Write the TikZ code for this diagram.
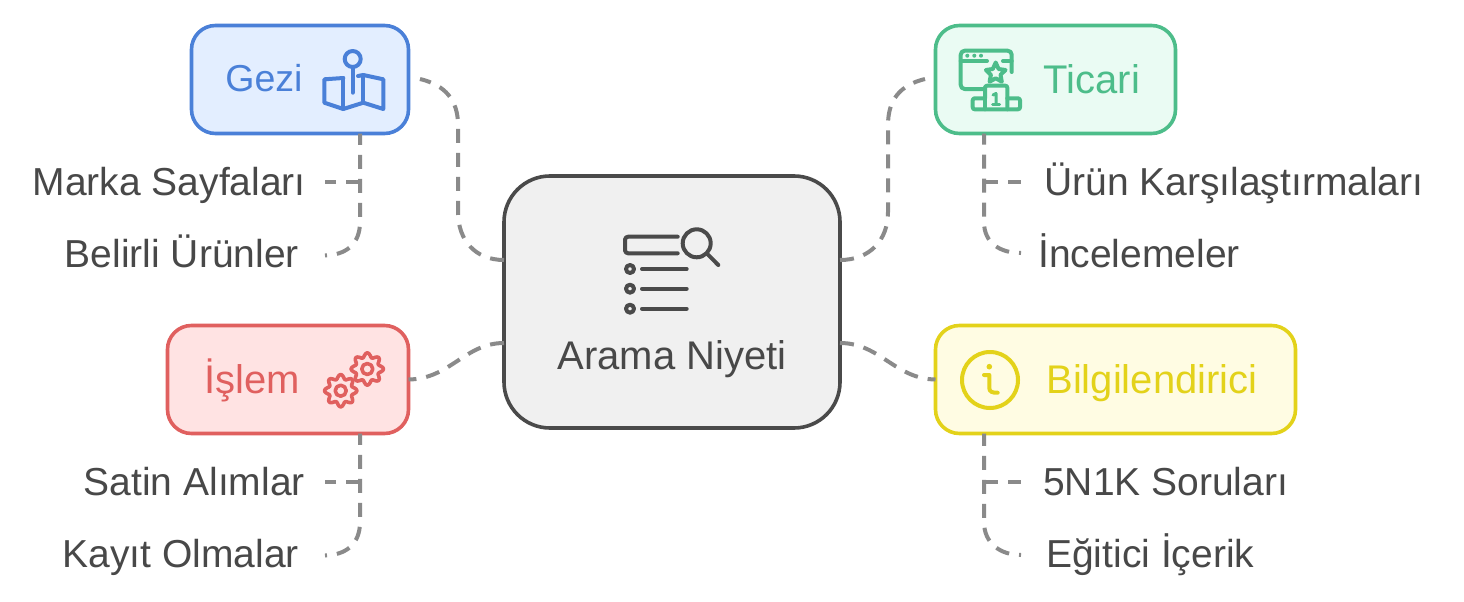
\documentclass[tikz,border=0pt]{standalone}
\usepackage{fontspec}
\setmainfont{Liberation Sans}
\definecolor{txt}{HTML}{484848}
\definecolor{cgray}{HTML}{8A8A8A}
\definecolor{blueS}{HTML}{4A80D8}\definecolor{blueF}{HTML}{E3EEFF}
\definecolor{greenS}{HTML}{4DBD8A}\definecolor{greenF}{HTML}{EAFBF3}
\definecolor{redS}{HTML}{E0605F}\definecolor{redF}{HTML}{FFE3E3}
\definecolor{yelS}{HTML}{E3D21A}\definecolor{yelF}{HTML}{FFFCE3}
\definecolor{ctrS}{HTML}{4A4A4A}\definecolor{ctrF}{HTML}{F0F0F0}
\tikzset{
 boxnode/.style={draw,line width=3.6pt,rounded corners=24pt,inner sep=0pt,outer sep=0pt},
 conn/.style={draw=cgray,line width=4pt,dash pattern=on 14pt off 10pt},
 connend/.style={conn,dash phase=12pt},
 lbl/.style={font=\fontsize{39}{46}\selectfont,text=txt,inner sep=0pt},
 head/.style={font=\fontsize{40}{46}\selectfont,inner sep=0pt,anchor=base},
 icon/.style={line width=4pt,line cap=round,line join=round}
}
\begin{document}
\begin{tikzpicture}[x=1pt,y=-1pt]
\useasboundingbox (0,0) rectangle (1464,602);
\fill[white] (0,0) rectangle (1464,602);
% free ends of connectors
\coordinate (gE) at (420,79);
\coordinate (tE) at (925,79);
\coordinate (lEnd1) at (325,255.5);
\coordinate (rEnd1) at (1021,253);
\coordinate (lEnd2) at (325,555.5);
\coordinate (rEnd2) at (1021,555);
\coordinate (mE) at (325,182);
\coordinate (uE) at (1021,182);
\coordinate (sE) at (325,482);
\coordinate (nE) at (1021,482);
\coordinate (j1) at (360,182);
\coordinate (j2) at (984,182);
\coordinate (j3) at (360,482);
\coordinate (j4) at (984,482);
% boxes
\node[boxnode,draw=ctrS,fill=ctrF,rounded corners=46pt,minimum width=336pt,minimum height=252pt] (center) at (672,302) {};
\node[boxnode,draw=blueS,fill=blueF,minimum width=217pt,minimum height=108pt] (gezi) at (300,79.5) {};
\node[boxnode,draw=greenS,fill=greenF,minimum width=240pt,minimum height=108pt] (ticari) at (1055.5,79.5) {};
\node[boxnode,draw=redS,fill=redF,minimum width=241pt,minimum height=108pt] (islem) at (288,379.5) {};
\node[boxnode,draw=yelS,fill=yelF,minimum width=360pt,minimum height=108pt] (bilgi) at (1115.5,379.5) {};
% titles
\node[head,text=blueS,font=\fontsize{37.5}{44}\selectfont] (geziT) at (264,92) {Gezi};
\node[head,text=greenS] (ticariT) at (1092,93) {Ticari};
\node[head,text=redS] (islemT) at (252,393) {İşlem};
\node[head,text=yelS] (bilgiT) at (1152,393) {Bilgilendirici};
\node[head,text=txt] (centerT) at (672,369) {Arama Niyeti};
% leaf labels
\node[lbl,anchor=base east] (marka) at (306,195.5) {Marka Sayfaları};
\node[lbl,anchor=base east] (belirli) at (299,267.5) {Belirli Ürünler};
\node[lbl,anchor=base east] (satin) at (305,495.5) {Satin Alımlar};
\node[lbl,anchor=base east] (kayit) at (299,567.5) {Kayıt Olmalar};
\node[lbl,anchor=base west] (urun) at (1044,195.5) {Ürün Karşılaştırmaları};
\node[lbl,anchor=base west] (incele) at (1038,267.5) {İncelemeler};
\node[lbl,anchor=base west] (soru) at (1043,495.5) {5N1K Soruları};
\node[lbl,anchor=base west] (egit) at (1046,567.5) {Eğitici İçerik};
% connectors to centre
\draw[conn] (center.west |- 0,260) .. controls (475,260) and (458,240) .. (458,212) -- (458,125) .. controls (458,100) and (445,85) .. (gE);
\draw[conn] (center.east |- 0,260) .. controls (870,260) and (888,240) .. (888,212) -- (888,125) .. controls (888,100) and (900,85) .. (tE);
\draw[conn] (center.west |- 0,343) .. controls (465,343) and (450,379) .. (islem.east);
\draw[conn] (center.east |- 0,343) .. controls (880,343) and (895,379) .. (bilgi.west);
% leaf connectors
\draw[connend] (lEnd1) .. controls (345,255) and (360,245) .. (360,222) -- (gezi.south -| j1);
\draw[conn] (j1) -- (mE);
\draw[connend] (rEnd1) .. controls (1000,253) and (984,243) .. (984,222) -- (ticari.south -| j2);
\draw[conn] (j2) -- (uE);
\draw[connend] (lEnd2) .. controls (345,555) and (360,545) .. (360,522) -- (islem.south -| j3);
\draw[conn] (j3) -- (sE);
\draw[connend] (rEnd2) .. controls (1000,555) and (984,543) .. (984,522) -- (bilgi.south -| j4);
\draw[conn] (j4) -- (nE);
% map icon
\begin{scope}[icon,draw=blueS]
\draw (352.7,59) circle (8);
\draw (352.7,67) -- (352.7,92.7);
\draw (343.3,78) -- (324.3,79.3) -- (324.3,102.7) -- (343.3,109) -- (363.3,102.7) -- (383.3,109) -- (383.3,79.3) -- (363.3,75) -- (358,76);
\draw (343.3,78) -- (343.3,109);
\draw (363.3,75) -- (363.3,102.7);
\end{scope}
% centre icon
\begin{scope}[icon,draw=ctrS]
\draw[rounded corners=3pt] (677.7,236.7) -- (625,236.7) -- (625,253.3) -- (677.7,253.3);
\draw (696.7,243.3) circle (14);
\draw (706.7,253.3) -- (718.3,265);
\foreach \yy in {269,288.7,308.7}{
 \draw (630,\yy) circle (4);
 \draw (642,\yy) -- (686.7,\yy);
}
\end{scope}
% ticari icon
\begin{scope}[icon,draw=greenS]
\draw[rounded corners=4pt] (983.3,89) -- (960.7,89) -- (960.7,50.7) -- (1011.7,50.7) -- (1011.7,72);
\draw (960.7,61) -- (987,61);
\draw (1003,61) -- (1011.7,61);
\foreach \xx in {967.3,974.3,981}{\fill[greenS] (\xx,55.7) circle (2);}
\draw (995.7,62.5) -- (998.6,69) -- (1005.5,70) -- (1000.5,74.8) -- (1001.8,81.7) -- (995.7,78.3) -- (989.6,81.7) -- (990.9,74.8) -- (985.9,70) -- (992.8,69) -- cycle;
\draw[rounded corners=2pt] (985,98.3) -- (985,85.7) -- (1007.3,85.7) -- (1007.3,109.3);
\draw[rounded corners=2pt] (985,98.3) -- (972.7,98.3) -- (972.7,109.3) -- (1020,109.3) -- (1020,98.3) -- (1007.3,98.3);
\draw (985,98.3) -- (985,109.3);
\draw[line width=3pt] (993,95) -- (996,93.5) -- (996,104);
\draw[line width=3pt] (992.5,104) -- (999.5,104);
\end{scope}
% gears
\begin{scope}[icon,draw=redS,line width=3.6pt]
\draw[smooth cycle,samples=64,domain=0:354.375] plot ({340.7+(14+2.2*cos(8*\x))*cos(\x)},{390.7+(14+2.2*cos(8*\x))*sin(\x)});
\draw (340.7,390.7) circle (5.5);
\draw[smooth cycle,samples=64,domain=0:354.375] plot ({367.3+(14+2.2*cos(8*\x))*cos(\x)},{369+(14+2.2*cos(8*\x))*sin(\x)});
\draw (367.3,369) circle (5.5);
\end{scope}
% info icon
\begin{scope}[icon,draw=yelS]
\draw (990,380) circle (28);
\fill[yelS] (989.3,366.7) circle (2.8);
\draw (984,375) -- (989.3,375) -- (989.3,388) .. controls (989.3,391.5) and (992,393) .. (997.7,392.7);
\end{scope}
\end{tikzpicture}
\end{document}
